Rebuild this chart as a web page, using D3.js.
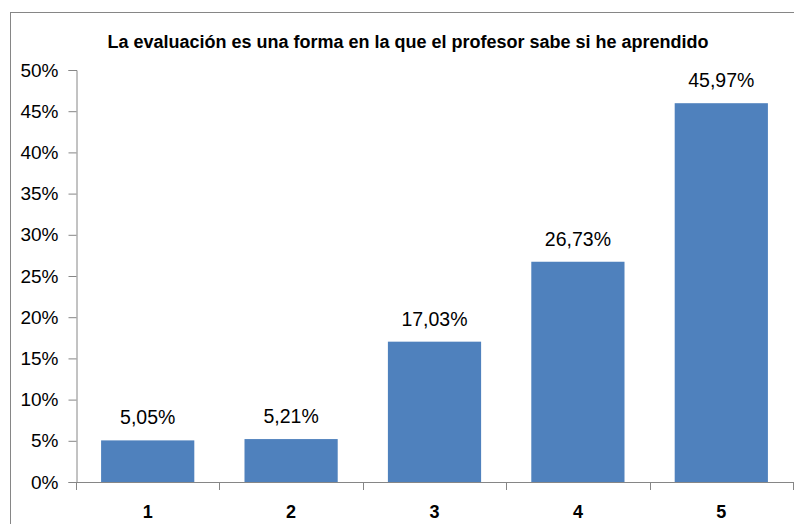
<!DOCTYPE html>
<html>
<head>
<meta charset="utf-8">
<script src="https://cdn.jsdelivr.net/npm/d3@7"></script>
<style>
  html, body { margin: 0; padding: 0; background: #fff; }
  svg { display: block; }
</style>
</head>
<body>
<div id="chart"></div>
<script>
// Chart data
const categories = ["1", "2", "3", "4", "5"];
const values = [5.05, 5.21, 17.03, 26.73, 45.97];
const valueLabels = ["5,05%", "5,21%", "17,03%", "26,73%", "45,97%"];
const yTicks = [0, 5, 10, 15, 20, 25, 30, 35, 40, 45, 50];
const title = "La evaluación es una forma en la que el profesor sabe si he aprendido";

const W = 794, H = 524;
const margin = { left: 76, right: 1, top: 70, bottom: 42 };
const fontFamily = "'Liberation Sans', 'Open Sans', Arial, sans-serif";

const svg = d3.select("#chart").append("svg")
  .attr("width", W).attr("height", H);

// Outer chart frame
svg.append("rect")
  .attr("x", 10.5).attr("y", 12.5)
  .attr("width", W + 20).attr("height", H + 20)
  .attr("fill", "#fff").attr("stroke", "#868686").attr("stroke-width", 1);

const x = d3.scaleBand()
  .domain(categories)
  .range([margin.left, 793])
  .paddingInner(0.35).paddingOuter(0.175);

const y = d3.scaleLinear()
  .domain([0, 50])
  .range([482, 70]);

// Title
svg.append("text")
  .attr("x", 408).attr("y", 48)
  .attr("text-anchor", "middle")
  .attr("font-family", fontFamily)
  .attr("font-weight", "bold")
  .attr("font-size", 18)
  .attr("fill", "#000")
  .text(title);

// Y axis
const yAxis = d3.axisLeft(y)
  .tickValues(yTicks)
  .tickFormat(d => d + "%")
  .tickSize(8)
  .tickPadding(10);
const gy = svg.append("g")
  .attr("transform", `translate(${margin.left + 0.5},0)`)
  .call(yAxis);
gy.select(".domain").attr("stroke", "#868686");
gy.selectAll(".tick line").attr("stroke", "#868686");
gy.selectAll(".tick text")
  .attr("font-family", fontFamily)
  .attr("font-size", 19)
  .attr("fill", "#000");

// Bars
svg.append("g").selectAll("rect")
  .data(values)
  .join("rect")
  .attr("x", (d, i) => x(categories[i]))
  .attr("y", d => y(d))
  .attr("width", x.bandwidth())
  .attr("height", d => y(0) - y(d))
  .attr("fill", "#4F81BD");

// Value labels
svg.append("g").selectAll("text")
  .data(values)
  .join("text")
  .attr("x", (d, i) => x(categories[i]) + x.bandwidth() / 2)
  .attr("y", d => y(d) - 16)
  .attr("text-anchor", "middle")
  .attr("font-family", fontFamily)
  .attr("font-size", 19.5)
  .attr("fill", "#000")
  .text((d, i) => valueLabels[i]);

// X axis with ticks between categories
const step = x.step();
const xBoundaries = d3.range(categories.length + 1).map(i => margin.left + i * step);
const gx = svg.append("g");
gx.append("line")
  .attr("x1", margin.left).attr("x2", 793)
  .attr("y1", y(0) + 0.5).attr("y2", y(0) + 0.5)
  .attr("stroke", "#868686");
gx.selectAll("line.tick")
  .data(xBoundaries)
  .join("line")
  .attr("class", "tick")
  .attr("x1", d => Math.round(d) + 0.5).attr("x2", d => Math.round(d) + 0.5)
  .attr("y1", y(0)).attr("y2", y(0) + 8)
  .attr("stroke", "#868686");
gx.selectAll("text")
  .data(categories)
  .join("text")
  .attr("x", d => x(d) + x.bandwidth() / 2)
  .attr("y", 518)
  .attr("text-anchor", "middle")
  .attr("font-family", fontFamily)
  .attr("font-weight", "bold")
  .attr("font-size", 18)
  .attr("fill", "#000")
  .text(d => d);
</script>
</body>
</html>
